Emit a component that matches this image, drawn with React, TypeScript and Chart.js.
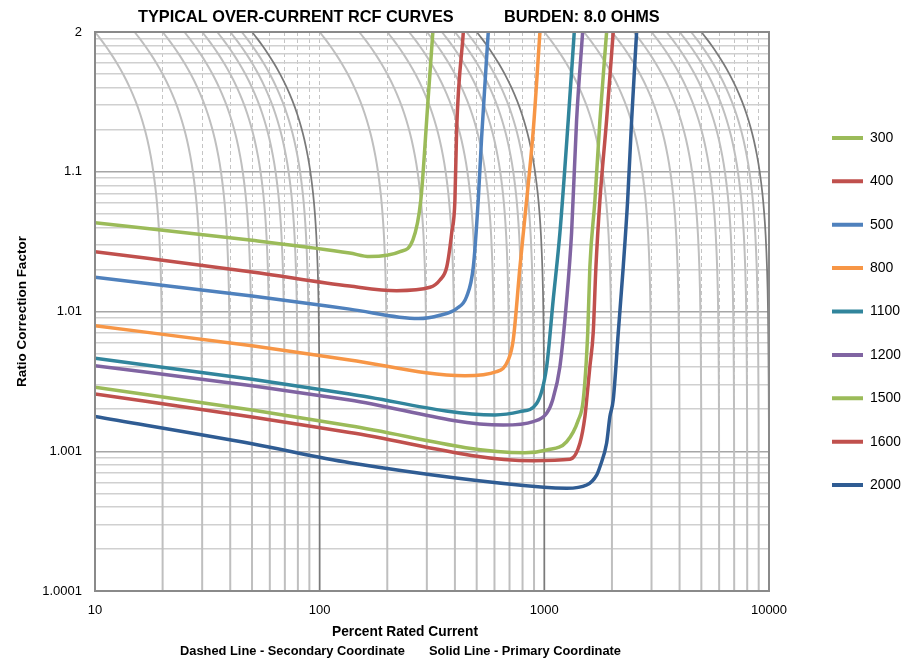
import React, { useEffect, useRef } from 'react';
import { Chart, registerables } from 'chart.js';

Chart.register(...registerables);

// ---- axis data (y values are RCF - 1 on a log scale) ----
const xMajorValues = [10, 100, 1000, 10000];
const xTickLabels = ['10', '100', '1000', '10000'];
const yMajorValues = [0.0001, 0.001, 0.01, 0.1, 1];
const yTickLabels = ['1.0001', '1.001', '1.01', '1.1', '2'];

// ---- series: [percent rated current, RCF] ----
const s300: [number, number][] = [[10, 1.0432], [50, 1.0323], [136, 1.0262], [167, 1.0247], [228, 1.0268], [260, 1.0325], [282, 1.0628], [303, 1.31], [319, 2]];
const s400: [number, number][] = [[10, 1.0268], [50, 1.0192], [136, 1.0152], [220, 1.0141], [310, 1.0149], [343, 1.0168], [368, 1.0209], [387, 1.0365], [400, 1.0628], [407, 1.199], [436, 2]];
const s500: [number, number][] = [[10, 1.0176], [50, 1.0129], [136, 1.0104], [275, 1.0089], [343, 1.0094], [407, 1.0105], [451, 1.0128], [483, 1.0209], [508, 1.0628], [526, 1.178], [563, 2]];
const s800: [number, number][] = [[10, 1.0079], [50, 1.00568], [136, 1.0045], [443, 1.00347], [613, 1.00371], [691, 1.0045], [727, 1.00625], [779, 1.0209], [820, 1.0477], [893, 1.199], [956, 2]];
const s1100: [number, number][] = [[10, 1.00463], [50, 1.00327], [136, 1.00257], [603, 1.00182], [779, 1.00192], [924, 1.0022], [1024, 1.00403], [1095, 1.0121], [1173, 1.0365], [1278, 1.2346], [1359, 2]];
const s1200: [number, number][] = [[10, 1.00409], [50, 1.00294], [136, 1.00233], [656, 1.00154], [893, 1.00163], [1024, 1.00187], [1089, 1.00233], [1173, 1.00403], [1257, 1.0121], [1322, 1.0365], [1392, 1.2346], [1481, 2]];
const s1500: [number, number][] = [[10, 1.00287], [50, 1.00197], [136, 1.00152], [820, 1.000976], [1024, 1.00102], [1257, 1.00117], [1416, 1.00167], [1490, 1.00233], [1560, 1.00702], [1595, 1.0209], [1680, 1.0628], [1768, 1.2346], [1893, 2]];
const s1600: [number, number][] = [[10, 1.00257], [50, 1.00176], [136, 1.00136], [893, 1.000856], [1300, 1.000876], [1440, 1.00114], [1516, 1.00177], [1543, 1.00233], [1595, 1.00403], [1650, 1.00702], [1697, 1.0209], [1768, 1.0628], [1893, 1.2346], [2026, 2]];
const s2000: [number, number][] = [[10, 1.00177], [50, 1.00113], [136, 1.000828], [996, 1.000552], [1257, 1.000543], [1543, 1.000573], [1709, 1.000676], [1768, 1.000775], [1893, 1.00114], [1958, 1.00177], [2026, 1.00233], [2133, 1.00702], [2245, 1.0209], [2349, 1.0628], [2447, 1.2346], [2575, 2]];

const seriesNames = ['300', '400', '500', '800', '1100', '1200', '1500', '1600', '2000'];
const seriesData = [s300, s400, s500, s800, s1100, s1200, s1500, s1600, s2000];
const seriesColors = ['#9bbb59', '#c0504d', '#4f81bd', '#f79646', '#31859c', '#8064a2', '#9bbb59', '#c0504d', '#2f5c93'];

// ---- primary-coordinate (constant primary current) curves ----
const primaryCurrents = [20, 30, 40, 50, 60, 70, 80, 90, 100, 200, 300, 400, 500, 600, 700, 800, 900, 1000, 2000, 3000, 4000, 5000, 6000, 7000, 8000, 9000, 10000];
const decadeCurrents = [100, 1000, 10000];
const rcfLevels = [1.0001, 1.001, 1.003, 1.01, 1.02, 1.035, 1.05, 1.07, 1.1, 1.13, 1.17, 1.21, 1.26, 1.32, 1.4, 1.5, 1.6, 1.7, 1.8, 1.9, 2];

const FONT = "'Liberation Sans', Arial, sans-serif";

function withMinors(majors: number[]): number[] {
  const out: number[] = [];
  for (let i = 0; i < majors.length; i++) {
    out.push(majors[i]);
    if (i < majors.length - 1) for (let m = 2; m <= 9; m++) out.push(majors[i] * m);
  }
  return out;
}
const majorIndex = (majors: number[], v: number) => majors.findIndex((m) => Math.abs(m - v) / m < 1e-6);

const xTicks = withMinors(xMajorValues);
const yTicks = withMinors(yMajorValues);

function fitSize(ctx: CanvasRenderingContext2D, text: string, target: number) {
  ctx.font = `bold 20px ${FONT}`;
  return (20 * target) / ctx.measureText(text).width;
}

const textPlugin = {
  id: 'rcfTexts',
  afterDatasetsDraw(chart: any) {
    const { ctx, chartArea: a } = chart;
    ctx.save();
    ctx.strokeStyle = '#8a8a8a';
    ctx.lineWidth = 2;
    ctx.strokeRect(a.left, a.top, a.right - a.left, a.bottom - a.top);
    ctx.restore();
  },
  afterDraw(chart: any) {
    const ctx: CanvasRenderingContext2D = chart.ctx;
    ctx.save();
    ctx.fillStyle = '#000';
    ctx.textBaseline = 'middle';
    ctx.textAlign = 'left';
    const t1 = 'TYPICAL OVER-CURRENT RCF CURVES';
    const t2 = 'BURDEN: 8.0 OHMS';
    const s1 = fitSize(ctx, t1, 316);
    ctx.font = `bold ${s1}px ${FONT}`;
    ctx.fillText(t1, 138, 17.5);
    ctx.fillText(t2, 504, 17.5);

    const b1 = 'Percent Rated Current';
    const s2 = fitSize(ctx, b1, 146);
    ctx.font = `bold ${s2}px ${FONT}`;
    ctx.textAlign = 'center';
    ctx.fillText(b1, 405, 632);

    const b2 = 'Dashed Line - Secondary Coordinate';
    const b3 = 'Solid Line - Primary Coordinate';
    const s3 = fitSize(ctx, b2, 225);
    ctx.font = `bold ${s3}px ${FONT}`;
    ctx.textAlign = 'left';
    ctx.fillText(b2, 180, 651.5);
    ctx.fillText(b3, 429, 651.5);
    ctx.restore();
  },
};

export default function App() {
  const ref = useRef<HTMLCanvasElement>(null);
  useEffect(() => {
    document.body.style.margin = '0';
    const colored = seriesData.map((s, i) => ({
      label: seriesNames[i],
      data: s.map(([x, r]) => ({ x, y: r - 1 })),
      borderColor: seriesColors[i],
      backgroundColor: seriesColors[i],
      borderWidth: 3.5,
      pointRadius: 0,
      cubicInterpolationMode: 'monotone' as const,
      borderJoinStyle: 'round' as const,
      borderCapStyle: 'round' as const,
    }));
    const gray = primaryCurrents.map((p) => {
      const dark = decadeCurrents.includes(p);
      return {
        label: `P${p}`,
        data: rcfLevels.map((r) => ({ x: p / r, y: r - 1 })),
        borderColor: dark ? '#7a7a7a' : '#bfbfbf',
        backgroundColor: dark ? '#7a7a7a' : '#bfbfbf',
        borderWidth: dark ? 1.75 : 2,
        pointRadius: 0,
        tension: 0.3,
      };
    });
    const chart = new Chart(ref.current as HTMLCanvasElement, {
      type: 'line',
      data: { datasets: [...colored, ...gray] as any },
      plugins: [textPlugin as any],
      options: {
        responsive: false,
        animation: false,
        devicePixelRatio: 1,
        events: [],
        layout: { padding: { top: 32, right: 16.4, bottom: 32, left: 0 } },
        scales: {
          x: {
            type: 'logarithmic',
            min: 10,
            max: 10000,
            afterBuildTicks: (s: any) => {
              s.ticks = xTicks.map((v) => ({ value: v }));
            },
            afterFit: (s: any) => {
              s.height = 40;
              s.paddingLeft = 0;
              s.paddingRight = 0;
            },
            ticks: {
              autoSkip: false,
              maxRotation: 0,
              minRotation: 0,
              padding: 12,
              color: '#000',
              font: { family: FONT, size: 13 },
              callback: (v: any) => {
                const i = majorIndex(xMajorValues, Number(v));
                return i >= 0 ? xTickLabels[i] : '';
              },
            },
            grid: { drawTicks: false, color: '#c4c4c4', lineWidth: 1 },
            border: { display: false, dash: [4, 3] },
          },
          y: {
            type: 'logarithmic',
            min: 0.0001,
            max: 1,
            afterBuildTicks: (s: any) => {
              s.ticks = yTicks.map((v) => ({ value: v }));
            },
            afterFit: (s: any) => {
              s.width = 95;
              s.paddingTop = 0;
              s.paddingBottom = 0;
            },
            ticks: {
              autoSkip: false,
              padding: 13,
              color: '#000',
              font: { family: FONT, size: 13 },
              callback: (v: any) => {
                const i = majorIndex(yMajorValues, Number(v));
                return i >= 0 ? yTickLabels[i] : '';
              },
            },
            grid: {
              drawTicks: false,
              lineWidth: 1.5,
              color: (c: any) => (c.tick && majorIndex(yMajorValues, c.tick.value) >= 0 ? '#a6a6a6' : '#d0d0d0'),
            },
            border: { display: false },
            title: {
              display: true,
              text: 'Ratio Correction Factor',
              color: '#000',
              font: { family: FONT, size: 13.5, weight: 'bold' },
              padding: { top: 14, bottom: 0 },
            },
          },
          y2: {
            type: 'linear',
            position: 'right',
            display: true,
            grid: { display: false, drawOnChartArea: false },
            ticks: { display: false },
            border: { display: false },
            afterFit: (s: any) => {
              s.width = 33.6;
            },
          },
        } as any,
        plugins: {
          tooltip: { enabled: false },
          title: { display: false },
          legend: {
            position: 'right',
            align: 'center',
            fullSize: false,
            maxWidth: 98,
            labels: {
              boxWidth: 31,
              boxHeight: 4,
              padding: 29.4,
              color: '#000',
              font: { family: FONT, size: 14 },
              filter: (item: any) => item.datasetIndex < seriesNames.length,
              generateLabels: (ch: any) => {
                const items = (Chart.defaults.plugins.legend.labels as any).generateLabels(ch);
                items.forEach((it: any) => {
                  it.lineWidth = 0;
                  it.fillStyle = it.strokeStyle;
                });
                return items;
              },
            },
          },
        } as any,
      },
    });
    return () => chart.destroy();
  }, []);
  return (
    <div style={{ position: 'absolute', left: 0, top: 0, width: 917, height: 663, background: '#fff' }}>
      <canvas ref={ref} width={917} height={663} style={{ display: 'block', width: 917, height: 663 }} />
    </div>
  );
}
